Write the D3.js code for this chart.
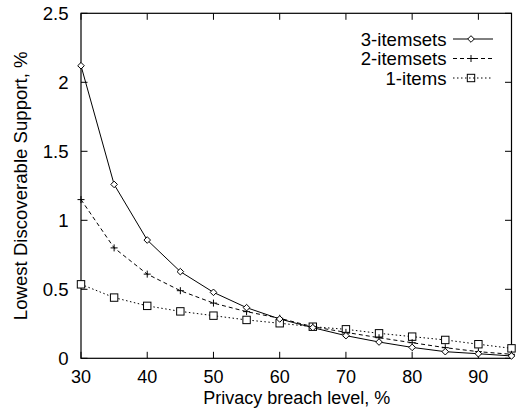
<!DOCTYPE html>
<html>
<head>
<meta charset="utf-8">
<script src="https://cdn.jsdelivr.net/npm/d3@7"></script>
<style>
  html, body { margin: 0; padding: 0; background: #fff; }
  svg text { font-family: "Liberation Sans", Arial, Helvetica, sans-serif; fill: #000; }
</style>
</head>
<body>
<svg id="chart" width="519" height="410"></svg>
<script>
const breachLevels = [30, 35, 40, 45, 50, 55, 60, 65, 70, 75, 80, 85, 90, 95];
const itemsets3 = [2.12, 1.26, 0.857, 0.628, 0.478, 0.367, 0.285, 0.222, 0.164, 0.118, 0.079, 0.048, 0.033, 0.017];
const itemsets2 = [1.15, 0.80, 0.61, 0.49, 0.40, 0.338, 0.29, 0.229, 0.188, 0.149, 0.113, 0.077, 0.048, 0.029];
const items1 = [0.536, 0.44, 0.38, 0.34, 0.309, 0.278, 0.254, 0.229, 0.21, 0.181, 0.157, 0.133, 0.102, 0.072];
const seriesNames = ["3-itemsets", "2-itemsets", "1-items"];
const xTicks = [30, 40, 50, 60, 70, 80, 90];
const yTicks = [0, 0.5, 1, 1.5, 2, 2.5];
const xLabel = "Privacy breach level, %";
const yLabel = "Lowest Discoverable Support, %";

const svg = d3.select("#chart");
const L = 81, R = 511.5, T = 13.3, B = 358.3;
const x = d3.scaleLinear().domain([30, 95]).range([L, R]);
const y = d3.scaleLinear().domain([0, 2.5]).range([B, T]);
const fs = 18.6;
const fsX = 18;

const series = [
  { name: seriesNames[0], values: itemsets3, dash: null, marker: "diamond" },
  { name: seriesNames[1], values: itemsets2, dash: "4,3", marker: "plus" },
  { name: seriesNames[2], values: items1, dash: "1.5,2.5", marker: "square" }
];

// ticks (inward, mirrored)
const tl = 6.5;
const g = svg.append("g");
xTicks.forEach(t => {
  g.append("line").attr("x1", x(t)).attr("x2", x(t)).attr("y1", B).attr("y2", B - tl).attr("stroke", "#000");
  g.append("line").attr("x1", x(t)).attr("x2", x(t)).attr("y1", T).attr("y2", T + tl).attr("stroke", "#000");
  g.append("text").attr("x", x(t)).attr("y", 383.3).attr("text-anchor", "middle").attr("font-size", fsX).text(t);
});
yTicks.forEach(t => {
  g.append("line").attr("x1", L).attr("x2", L + tl).attr("y1", y(t)).attr("y2", y(t)).attr("stroke", "#000");
  g.append("line").attr("x1", R).attr("x2", R - tl).attr("y1", y(t)).attr("y2", y(t)).attr("stroke", "#000");
  g.append("text").attr("x", 68.5).attr("y", y(t) + 7).attr("text-anchor", "end").attr("font-size", fs).text(t);
});

// frame
svg.append("rect").attr("x", L).attr("y", T).attr("width", R - L).attr("height", B - T)
  .attr("fill", "none").attr("stroke", "#000").attr("stroke-width", 1.2);

// axis labels
svg.append("text").attr("x", (L + R) / 2 + 0.5).attr("y", 403.5).attr("text-anchor", "middle").attr("font-size", fsX).text(xLabel);
svg.append("text").attr("transform", `translate(27,${(T + B) / 2}) rotate(-90)`).attr("text-anchor", "middle").attr("font-size", fs).text(yLabel);

function drawMarker(sel, type, cx, cy) {
  if (type === "diamond") {
    const s = 3.3;
    sel.append("path").attr("d", `M${cx},${cy - s}L${cx + s},${cy}L${cx},${cy + s}L${cx - s},${cy}Z`)
      .attr("fill", "#fff").attr("stroke", "#000").attr("stroke-width", 1);
  } else if (type === "plus") {
    const s = 3.5;
    sel.append("path").attr("d", `M${cx - s},${cy}H${cx + s}M${cx},${cy - s}V${cy + s}`)
      .attr("fill", "none").attr("stroke", "#000").attr("stroke-width", 1);
  } else {
    const s = 3.7;
    sel.append("rect").attr("x", cx - s).attr("y", cy - s).attr("width", 2 * s).attr("height", 2 * s)
      .attr("fill", "none").attr("stroke", "#000").attr("stroke-width", 1);
  }
}

const line = d3.line().x(d => x(d[0])).y(d => y(d[1]));
const plot = svg.append("g");
series.slice().reverse().forEach(s => {
  const pts = breachLevels.map((b, i) => [b, s.values[i]]);
  plot.append("path").attr("d", line(pts)).attr("fill", "none").attr("stroke", "#000")
    .attr("stroke-width", 1).attr("stroke-dasharray", s.dash);
});
series.slice().reverse().forEach(s => {
  const mg = plot.append("g");
  breachLevels.forEach((b, i) => {
    const cy = y(s.values[i]);
    if (s.marker === "square") {
      mg.append("rect").attr("x", x(b) - 3.7).attr("y", cy - 3.7).attr("width", 7.4).attr("height", 7.4).attr("fill", "#fff").attr("stroke", "none");
    }
    drawMarker(mg, s.marker, x(b), cy);
  });
});

// legend
const legY = [39, 58.5, 78];
series.forEach((s, i) => {
  const ly = legY[i];
  svg.append("text").attr("x", 446.5).attr("y", ly + 6.7).attr("text-anchor", "end").attr("font-size", fs).text(s.name);
  svg.append("line").attr("x1", 453).attr("x2", 493).attr("y1", ly).attr("y2", ly)
    .attr("stroke", "#000").attr("stroke-width", 1).attr("stroke-dasharray", s.dash);
  drawMarker(svg, s.marker, 471, ly);
});
</script>
</body>
</html>
